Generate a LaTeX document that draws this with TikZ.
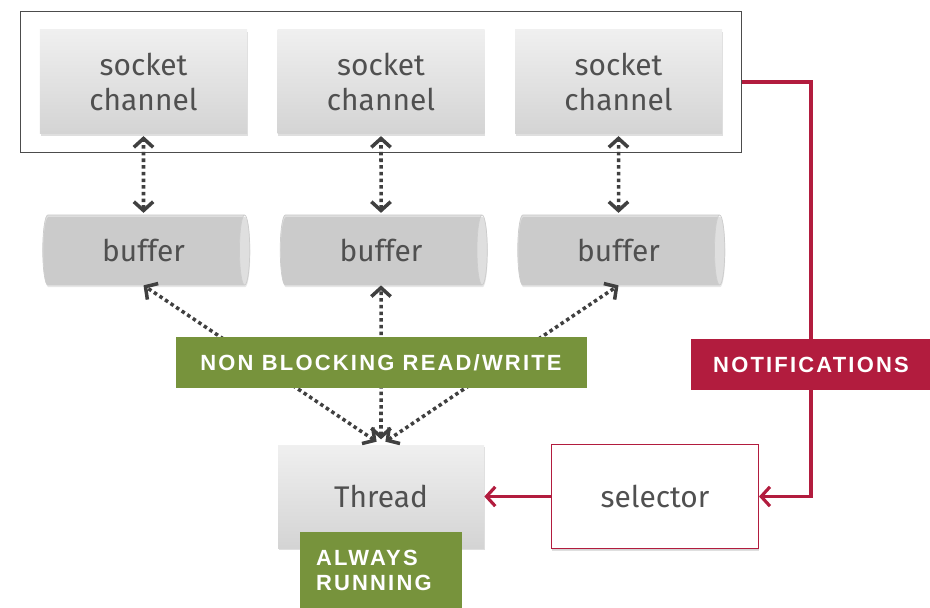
\documentclass[tikz,border=0pt]{standalone}
\usepackage{fontspec}
\setmainfont{Fira Sans}
\newfontfamily\labelfont[LetterSpace=10]{Liberation Sans}
\usetikzlibrary{positioning,fit,shapes.geometric,arrows.meta,shadows}
\definecolor{rwgreen}{RGB}{119,147,60}
\definecolor{notered}{RGB}{178,28,62}
\definecolor{boxtext}{RGB}{80,80,80}
\tikzset{chan node/.style={rectangle,minimum width=4.14cm,minimum height=2.08cm,inner sep=0pt,
    top color=black!6,bottom color=black!17,text=boxtext,align=center,
    font=\fontsize{17}{20}\selectfont,
    drop shadow={opacity=0.25,shadow xshift=0.3pt,shadow yshift=-1.2pt}},
  buf node/.style={cylinder,shape border rotate=0,aspect=0.45,minimum width=1.4cm,minimum height=4.14cm,
    inner sep=0pt,draw=black!20,cylinder uses custom fill,cylinder body fill=black!13,cylinder end fill=black!3,
    text=boxtext,font=\fontsize{17}{20}\selectfont,
    drop shadow={opacity=0.2,shadow xshift=0.3pt,shadow yshift=-1.2pt}},
  tag node/.style={rectangle,minimum height=1.02cm,inner sep=0pt,text=white,font=\labelfont\bfseries\fontsize{12.5}{14}\selectfont},
  rw/.style={line width=2pt,draw=black!75,dash pattern=on 2pt off 1.8pt,
    {Straight Barb[length=5pt,width=11pt]}-{Straight Barb[length=5pt,width=11pt]}},
  note line/.style={line width=1.8pt,draw=notered,-{Straight Barb[length=5pt,width=11pt]}} }

\begin{document}
\begin{tikzpicture}
\begin{scope}[on grid]
  \useasboundingbox (-2.87,1.64) rectangle (15.73,-10.52);

  \node[chan node] (s1) {socket\\channel};
  \node[chan node] (s2) [right =4.75cm of s1] {socket\\channel};
  \node[chan node] (s3) [right =4.75cm of s2] {socket\\channel};
  \node[draw=black!70,line width=0.8pt,inner xsep=0.38cm,inner ysep=0.36cm,fit=(s1)(s3)] (outer) {};

  \node[buf node] (b1) [below =3.36cm of s1] {buffer};
  \node[buf node] (b2) [below =3.36cm of s2] {buffer};
  \node[buf node] (b3) [below =3.36cm of s3] {buffer};

  \node[chan node,minimum height=2.06cm,minimum width=4.12cm] (thread) [below =4.93cm of b2] {Thread};
  \node[chan node,top color=white,bottom color=white,draw=notered,line width=0.6pt,
    drop shadow={opacity=0.12,shadow xshift=0.3pt,shadow yshift=-1pt}] (sel) [right =5.48cm of thread] {selector};

  \node[coordinate] (n) [above right =2.64cm and 3.12cm of sel] {};
  \coordinate (turn) at (n |- outer.east);
  \coordinate (drop) at (n |- sel.east);

  \path
    (b1) edge [rw, shorten <=1pt, shorten >=1pt] (s1)
    (b2) edge [rw, shorten <=1pt, shorten >=1pt] (s2)
    (b3) edge [rw, shorten <=1pt, shorten >=1pt] (s3)

    (thread.north) edge [rw, shorten <=3pt] (b1.south)
    (thread.north) edge [rw, shorten <=3pt] (b2.south)
    (thread.north) edge [rw, shorten <=3pt] (b3.south)
    ;

  \draw[note line] (outer.east) -- (turn) -- (drop) -- (sel.east);
  \draw[note line] (sel.west) -- (thread.east);

  \node[tag node,fill=rwgreen,minimum width=8.22cm] (rwtag) [above =2.68cm of thread] {NON BLOCKING READ/WRITE};
  \node[tag node,fill=notered,minimum width=4.82cm] (notif) at (n) {NOTIFICATIONS};
  \node[tag node,fill=rwgreen,minimum width=3.24cm,minimum height=1.52cm,text width=2.6cm,
    inner xsep=0.32cm,align=left,font=\labelfont\bfseries\fontsize{12.5}{14.2}\selectfont] (always) [below =1.47cm of thread] {ALWAYS\\RUNNING};
\end{scope}
\end{tikzpicture}
\end{document}
